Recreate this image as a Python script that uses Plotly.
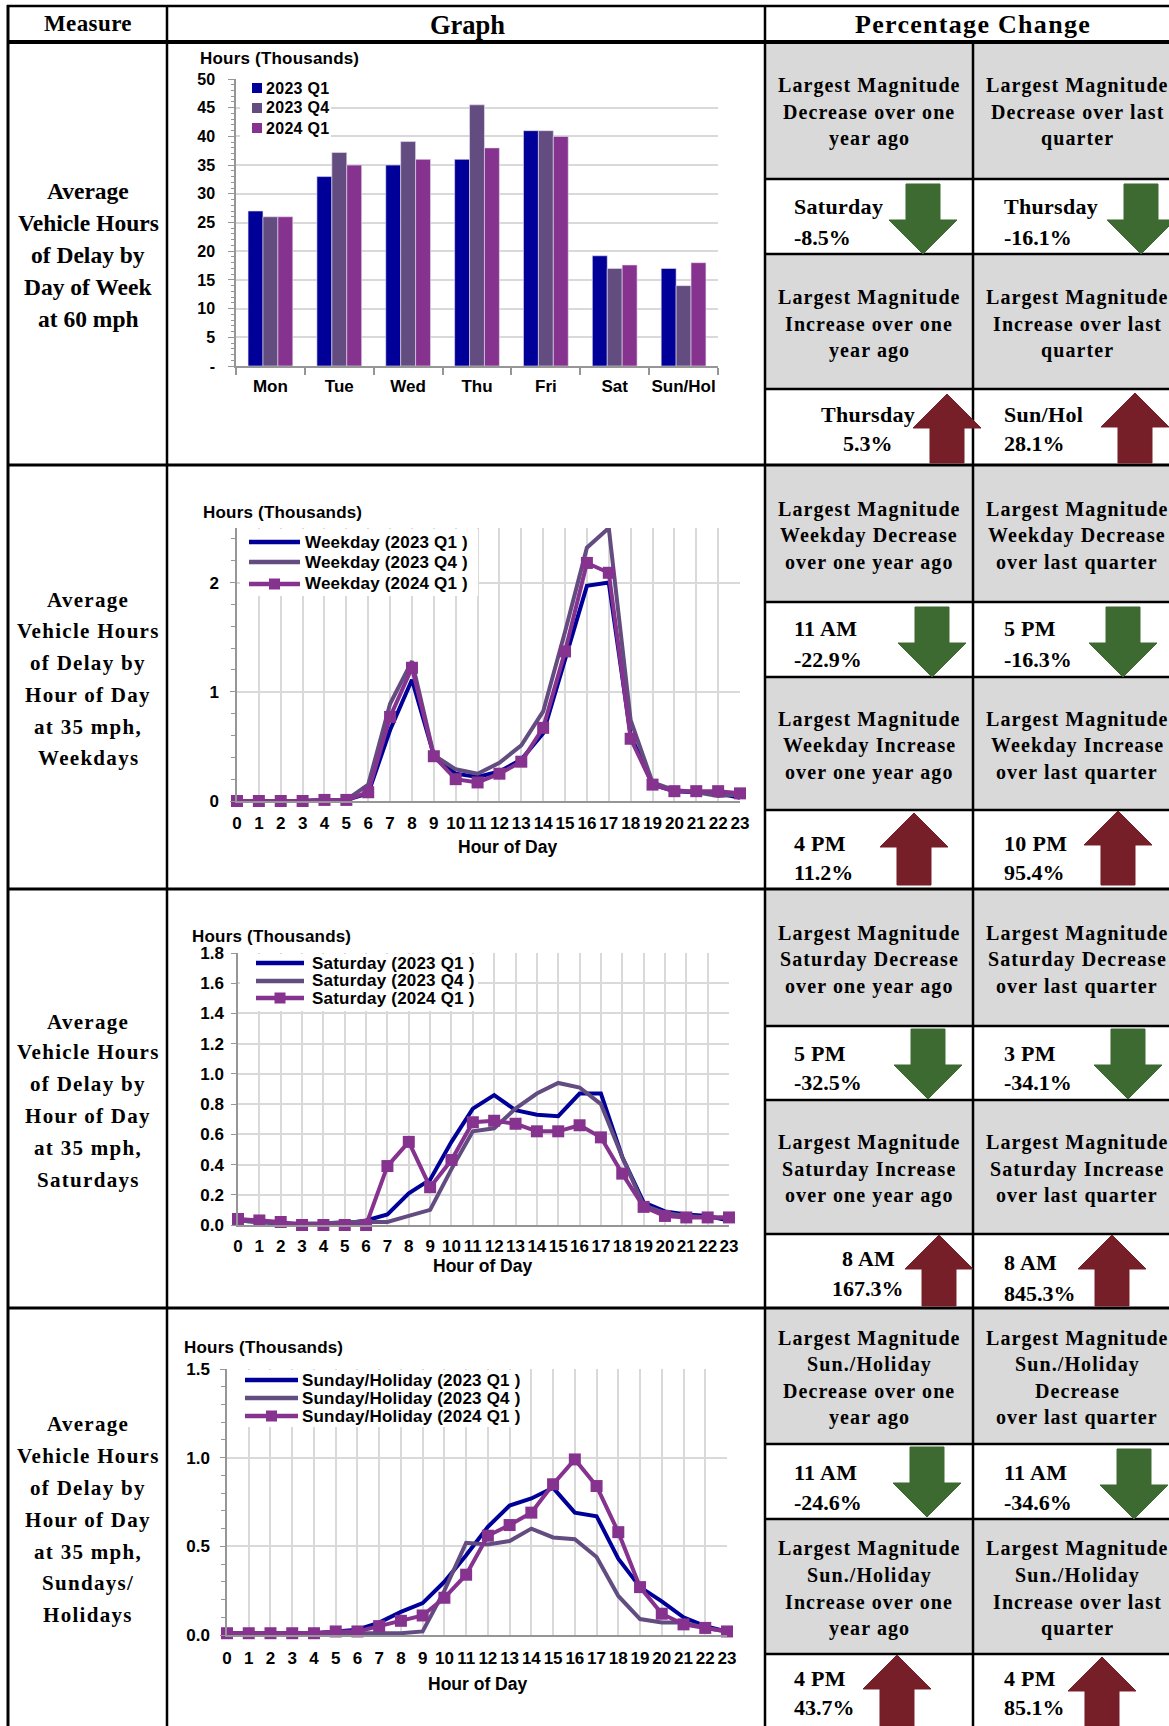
import plotly.graph_objects as go

W, H = 1169, 1726


def X(px):
    return px / W


def Y(px):
    return 1 - px / H


# ---------------- data ----------------
days = ["Mon", "Tue", "Wed", "Thu", "Fri", "Sat", "Sun/Hol"]
bar_2023q1 = [27.0, 33.0, 35.0, 36.0, 41.0, 19.2, 17.0]
bar_2023q4 = [26.0, 37.2, 39.1, 45.5, 41.0, 17.0, 14.0]
bar_2024q1 = [26.0, 35.0, 36.0, 38.0, 40.0, 17.6, 18.0]
bar_names = ["2023 Q1", "2023 Q4", "2024 Q1"]

hours = list(range(24))
wk_2023q1 = [0.0, 0.0, 0.0, 0.0, 0.01, 0.01, 0.07, 0.65, 1.11, 0.42, 0.25, 0.22,
             0.27, 0.38, 0.62, 1.29, 1.97, 2.00, 0.60, 0.15, 0.09, 0.08, 0.07, 0.03]
wk_2023q4 = [0.0, 0.0, 0.0, 0.0, 0.01, 0.01, 0.15, 0.89, 1.28, 0.42, 0.29, 0.25,
             0.35, 0.51, 0.82, 1.55, 2.32, 2.50, 0.74, 0.17, 0.10, 0.08, 0.045, 0.06]
wk_2024q1 = [0.0, 0.0, 0.0, 0.0, 0.01, 0.01, 0.08, 0.77, 1.22, 0.41, 0.20, 0.17,
             0.25, 0.36, 0.67, 1.37, 2.18, 2.09, 0.57, 0.15, 0.09, 0.09, 0.09, 0.07]

sat_2023q1 = [0.03, 0.02, 0.01, 0.0, 0.0, 0.01, 0.03, 0.07, 0.21, 0.30, 0.55, 0.77,
              0.86, 0.76, 0.73, 0.72, 0.87, 0.87, 0.45, 0.15, 0.09, 0.07, 0.06, 0.03]
sat_2023q4 = [0.03, 0.02, 0.01, 0.01, 0.01, 0.02, 0.02, 0.02, 0.06, 0.10, 0.37, 0.62,
              0.64, 0.77, 0.87, 0.94, 0.91, 0.80, 0.45, 0.13, 0.08, 0.06, 0.05, 0.05]
sat_2024q1 = [0.04, 0.03, 0.02, 0.0, 0.0, 0.0, 0.0, 0.39, 0.55, 0.25, 0.43, 0.68,
              0.69, 0.67, 0.62, 0.62, 0.66, 0.58, 0.34, 0.12, 0.06, 0.05, 0.05, 0.05]

sun_2023q1 = [0.01, 0.01, 0.01, 0.01, 0.01, 0.02, 0.03, 0.07, 0.13, 0.18, 0.30, 0.45,
              0.61, 0.73, 0.77, 0.83, 0.69, 0.67, 0.43, 0.27, 0.19, 0.10, 0.05, 0.02]
sun_2023q4 = [0.01, 0.01, 0.01, 0.01, 0.01, 0.01, 0.01, 0.01, 0.01, 0.02, 0.25, 0.52,
              0.51, 0.53, 0.60, 0.55, 0.54, 0.44, 0.22, 0.09, 0.07, 0.07, 0.04, 0.02]
sun_2024q1 = [0.01, 0.01, 0.01, 0.01, 0.01, 0.02, 0.02, 0.05, 0.08, 0.11, 0.21, 0.34,
              0.56, 0.62, 0.69, 0.85, 0.99, 0.84, 0.58, 0.27, 0.12, 0.06, 0.04, 0.02]

wk_names = ["Weekday (2023 Q1 )", "Weekday (2023 Q4 )", "Weekday (2024 Q1 )"]
sat_names = ["Saturday (2023 Q1 )", "Saturday (2023 Q4 )", "Saturday (2024 Q1 )"]
sun_names = ["Sunday/Holiday (2023 Q1 )", "Sunday/Holiday (2023 Q4 )", "Sunday/Holiday (2024 Q1 )"]

measure_texts = [
    ["Average", "Vehicle Hours", "of Delay by", "Day of Week", "at 60 mph"],
    ["Average", "Vehicle Hours", "of Delay by", "Hour of Day", "at 35 mph,", "Weekdays"],
    ["Average", "Vehicle Hours", "of Delay by", "Hour of Day", "at 35 mph,", "Saturdays"],
    ["Average", "Vehicle Hours", "of Delay by", "Hour of Day", "at 35 mph,", "Sundays/", "Holidays"],
]

# percentage-change header cells: per row -> [dec_year, dec_quarter, inc_year, inc_quarter]
pct_headers = [
    [["Largest Magnitude", "Decrease over one", "year ago"],
     ["Largest Magnitude", "Decrease over last", "quarter"],
     ["Largest Magnitude", "Increase over one", "year ago"],
     ["Largest Magnitude", "Increase over last", "quarter"]],
    [["Largest Magnitude", "Weekday Decrease", "over one year ago"],
     ["Largest Magnitude", "Weekday Decrease", "over last quarter"],
     ["Largest Magnitude", "Weekday Increase", "over one year ago"],
     ["Largest Magnitude", "Weekday Increase", "over last quarter"]],
    [["Largest Magnitude", "Saturday Decrease", "over one year ago"],
     ["Largest Magnitude", "Saturday Decrease", "over last quarter"],
     ["Largest Magnitude", "Saturday Increase", "over one year ago"],
     ["Largest Magnitude", "Saturday Increase", "over last quarter"]],
    [["Largest Magnitude", "Sun./Holiday", "Decrease over one", "year ago"],
     ["Largest Magnitude", "Sun./Holiday", "Decrease", "over last quarter"],
     ["Largest Magnitude", "Sun./Holiday", "Increase over one", "year ago"],
     ["Largest Magnitude", "Sun./Holiday", "Increase over last", "quarter"]],
]
pct_labels = [
    ["Saturday", "Thursday", "Thursday", "Sun/Hol"],
    ["11 AM", "5 PM", "4 PM", "10 PM"],
    ["5 PM", "3 PM", "8 AM", "8 AM"],
    ["11 AM", "11 AM", "4 PM", "4 PM"],
]
pct_values = [
    ["-8.5%", "-16.1%", "5.3%", "28.1%"],
    ["-22.9%", "-16.3%", "11.2%", "95.4%"],
    ["-32.5%", "-34.1%", "167.3%", "845.3%"],
    ["-24.6%", "-34.6%", "43.7%", "85.1%"],
]

# ---------------- styles / layout geometry (pixels) ----------------
NAVY = "#000099"
GREYP = "#634C80"
PURP = "#86328F"
GREEN = "#3D6A30"
RED = "#761F28"
GRID = "#D9D9D9"
CELLGREY = "#D9D9D9"
SANS = "Liberation Sans, Arial, sans-serif"
SERIF = "Liberation Serif, Times New Roman, serif"
CF = 17  # chart font size

row_edges = [42, 465, 889, 1308, 1726]
pct_rows = [
    [42, 179, 254, 389, 465],
    [465, 602, 677, 810, 889],
    [889, 1026, 1100, 1234, 1308],
    [1308, 1444, 1519, 1654, 1726],
]
measure_line_y = [
    [191, 223, 255, 287, 319],
    [600, 631, 663, 695, 727, 758],
    [1022, 1052, 1084, 1116, 1148, 1180],
    [1424, 1456, 1488, 1520, 1552, 1583, 1615],
]
measure_font = [(23.5, 0.0), (21, 1.3), (21, 1.3), (21, 1.3)]
X_L, X_M, X_G, X_P, X_R = 8, 167, 765, 973, 1169
COL_CX = [869, 1077]
VAL_LEFT = [792, 1002]
val_pos = [
    [("l", 207, 237), ("l", 207, 237), ("c", 415, 443), ("l", 415, 443)],
    [("l", 628, 659), ("l", 628, 659), ("l", 843, 873), ("l", 843, 873)],
    [("l", 1053, 1082), ("l", 1053, 1082), ("c", 1258, 1288), ("l", 1262, 1293)],
    [("l", 1472, 1502), ("l", 1472, 1502), ("l", 1678, 1707), ("l", 1678, 1707)],
]
arrows = [  # (cx, top, bottom, direction)
    [(923, 184, 254, "d"), (1141, 184, 254, "d"), (947, 394, 463, "u"), (1135, 393, 463, "u")],
    [(932, 607, 677, "d"), (1123, 607, 677, "d"), (914, 813, 885, "u"), (1118, 811, 885, "u")],
    [(928, 1029, 1099, "d"), (1128, 1029, 1099, "d"), (939, 1235, 1306, "u"), (1112, 1235, 1306, "u")],
    [(927, 1447, 1517, "d"), (1134, 1449, 1519, "d"), (897, 1655, 1726, "u"), (1102, 1657, 1726, "u")],
]

fig = go.Figure()

# ---------------- bar chart ----------------
for name, vals, col in zip(bar_names, [bar_2023q1, bar_2023q4, bar_2024q1], [NAVY, GREYP, PURP]):
    fig.add_trace(go.Bar(x=days, y=vals, name=name, marker=dict(color=col, line=dict(color="#E8E0EE", width=0.6)),
                         xaxis="x", yaxis="y", showlegend=False))

# ---------------- line charts ----------------
line_sets = [
    ("x2", "y2", wk_names, [wk_2023q1, wk_2023q4, wk_2024q1]),
    ("x3", "y3", sat_names, [sat_2023q1, sat_2023q4, sat_2024q1]),
    ("x4", "y4", sun_names, [sun_2023q1, sun_2023q4, sun_2024q1]),
]
for xa, ya, names, series in line_sets:
    for i, (name, vals, col) in enumerate(zip(names, series, [NAVY, GREYP, PURP])):
        fig.add_trace(go.Scatter(
            x=hours, y=vals, name=name, xaxis=xa, yaxis=ya, showlegend=False,
            mode="lines+markers" if i == 2 else "lines",
            line=dict(color=col, width=4),
            marker=dict(symbol="square", size=12, color=col),
            cliponaxis=False))

annotations = []
shapes = []


def txt(s, x, y, size, family, xanchor="center", ls=0.0, bold=True, color="black"):
    if ls:
        s = f'<span style="letter-spacing:{ls}px">{s}</span>'
    annotations.append(dict(text=s, x=X(x), y=Y(y), xref="paper", yref="paper",
                            xanchor=xanchor, yanchor="middle", showarrow=False,
                            font=dict(family=family, size=size, color=color,
                                      weight="bold" if bold else "normal")))


def hline(y, x0, x1, w=2, color="black"):
    shapes.append(dict(type="line", xref="paper", yref="paper", x0=X(x0), x1=X(x1), y0=Y(y), y1=Y(y),
                       line=dict(color=color, width=w), layer="above"))


def vline(x, y0, y1, w=2, color="black"):
    shapes.append(dict(type="line", xref="paper", yref="paper", x0=X(x), x1=X(x), y0=Y(y0), y1=Y(y1),
                       line=dict(color=color, width=w), layer="above"))


def rect(x0, y0, x1, y1, fill, layer="below"):
    shapes.append(dict(type="rect", xref="paper", yref="paper", x0=X(x0), x1=X(x1), y0=Y(y0), y1=Y(y1),
                       fillcolor=fill, line=dict(width=0), layer=layer))


# grey cells
for pr in pct_rows:
    rect(X_G, pr[0], X_R + 5, pr[1], CELLGREY)
    rect(X_G, pr[2], X_R + 5, pr[3], CELLGREY)

# table lines
hline(6, X_L - 1, X_R + 5, 2.5)
hline(42, X_L - 1, X_R + 5, 4)
for y in row_edges[1:-1]:
    hline(y, X_L - 1, X_R + 5, 3)
for pr in pct_rows:
    for y in pr[1:4]:
        hline(y, X_G, X_R + 5, 2.5)
vline(X_L, 5, H + 2, 3)
vline(X_M, 5, H + 2, 2.5)
vline(X_G, 5, H + 2, 2.5)
vline(X_P, 42, H + 2, 2.5)

# headers
txt("Measure", 88, 24, 23, SERIF, ls=0.4)
txt("Graph", 467, 25, 26.5, SERIF)
txt("Percentage Change", 973, 25, 26, SERIF, ls=1.3)

# measure column
for lines, ys, (fs, fls) in zip(measure_texts, measure_line_y, measure_font):
    for s, y in zip(lines, ys):
        txt(s, 88, y, fs, SERIF, ls=fls)

# pct cells
for r in range(4):
    pr = pct_rows[r]
    grey_centres = [(pr[0] + pr[1]) / 2 + 2, (pr[2] + pr[3]) / 2 + 2]
    for k in range(4):
        col = k % 2
        g = k // 2
        lines = pct_headers[r][k]
        n = len(lines)
        for j, s in enumerate(lines):
            y = grey_centres[g] + (j - (n - 1) / 2) * 26.5
            txt(s, COL_CX[col], y, 20, SERIF, ls=1.1)
        mode, y1, y2 = val_pos[r][k]
        if mode == "l":
            txt(pct_labels[r][k], VAL_LEFT[col], y1, 22, SERIF, xanchor="left", ls=0.3)
            txt(pct_values[r][k], VAL_LEFT[col], y2, 22, SERIF, xanchor="left")
        else:
            txt(pct_labels[r][k], 868, y1, 22, SERIF, ls=0.3)
            txt(pct_values[r][k], 868, y2, 22, SERIF)
        cx, yt, yb, d = arrows[r][k]
        sh, hh, hl = 17, 34, 34
        if d == "d":
            pts = [(cx - sh, yt), (cx + sh, yt), (cx + sh, yb - hl), (cx + hh, yb - hl), (cx, yb),
                   (cx - hh, yb - hl), (cx - sh, yb - hl)]
            colr = GREEN
        else:
            pts = [(cx, yt), (cx + hh, yt + hl), (cx + sh, yt + hl), (cx + sh, yb), (cx - sh, yb),
                   (cx - sh, yt + hl), (cx - hh, yt + hl)]
            colr = RED
        path = "M " + " L ".join(f"{X(px):.5f},{Y(py):.5f}" for px, py in pts) + " Z"
        shapes.append(dict(type="path", xref="paper", yref="paper", path=path, fillcolor=colr,
                           line=dict(color=colr, width=1), layer="above"))

# ---------------- chart titles / custom legends ----------------
txt("Hours (Thousands)", 198, 58, CF, SANS, xanchor="left", ls=0.2)
txt("Hours (Thousands)", 201, 512, CF, SANS, xanchor="left", ls=0.2)
txt("Hours (Thousands)", 190, 936, CF, SANS, xanchor="left", ls=0.2)
txt("Hours (Thousands)", 182, 1347, CF, SANS, xanchor="left", ls=0.2)
txt("Hour of Day", 507, 847, 17.5, SANS)
txt("Hour of Day", 482, 1266, 17.5, SANS)
txt("Hour of Day", 477, 1684, 17.5, SANS)

# legend masks
rect(240, 80, 331, 137, "white", layer="above")
rect(240, 529, 478, 596, "white", layer="above")
rect(240, 954, 478, 1011, "white", layer="above")
rect(229, 1370, 521, 1427, "white", layer="above")

for name, col, y in zip(bar_names, [NAVY, GREYP, PURP], [88, 108, 128]):
    rect(252, y - 5, 262, y + 5, col, layer="above")
    txt(name, 264, y, 16, SANS, xanchor="left", ls=0.3)

legend_geo = [
    (wk_names, 249, 300, 303, [542, 562, 584]),
    (sat_names, 256, 304, 310, [963, 981, 998]),
    (sun_names, 245, 298, 300, [1380, 1398, 1416]),
]
for names, lx0, lx1, tx, ys in legend_geo:
    for i, (name, col, y) in enumerate(zip(names, [NAVY, GREYP, PURP], ys)):
        shapes.append(dict(type="line", xref="paper", yref="paper", x0=X(lx0), x1=X(lx1), y0=Y(y), y1=Y(y),
                           line=dict(color=col, width=4.5), layer="above"))
        if i == 2:
            cxm = (lx0 + lx1) / 2
            rect(cxm - 5.5, y - 5.5, cxm + 5.5, y + 5.5, col, layer="above")
        txt(name, tx, y, CF, SANS, xanchor="left", ls=0.2)

# ---------------- axes ----------------
tickfont = dict(family=SANS, size=CF, color="black", weight="bold")
AXC = "#969696"


def dom_x(a, b):
    return [X(a), X(b)]


def dom_y(top, bottom):
    return [Y(bottom), Y(top)]


fig.update_layout(
    autosize=True, margin=dict(l=0, r=0, t=0, b=0, autoexpand=False),
    paper_bgcolor="white", plot_bgcolor="white",
    barmode="group", bargap=0.35, bargroupgap=0.0, showlegend=False,
    xaxis=dict(domain=dom_x(236, 718), anchor="y", type="category", showgrid=False, tickangle=0,
               showline=True, linecolor=AXC, linewidth=1.5, ticks="outside", tickson="boundaries",
               ticklen=7, tickcolor=AXC, tickwidth=1.5, tickfont=tickfont, ticklabelstandoff=4),
    yaxis=dict(domain=dom_y(79, 366), anchor="x", range=[0, 50],
               tickvals=list(range(0, 51, 5)),
               ticktext=["-"] + [str(v) for v in range(5, 51, 5)],
               showgrid=True, gridcolor=GRID, gridwidth=2, zeroline=False,
               showline=True, linecolor=AXC, linewidth=1.5, ticks="outside", ticklen=6,
               tickcolor=AXC, tickfont=dict(family=SANS, size=16, color="black", weight="bold"),
               ticklabelstandoff=10,
               minor=dict(dtick=1, ticks="outside", ticklen=3, tickcolor=AXC, showgrid=False)),
    xaxis2=dict(domain=dom_x(237, 740), anchor="y2", range=[0, 23], tickvals=hours, tickangle=0,
                showgrid=True, gridcolor=GRID, gridwidth=2, zeroline=False,
                showline=True, linecolor=AXC, linewidth=1.5, tickfont=tickfont, ticklabelstandoff=6),
    yaxis2=dict(domain=dom_y(528, 801), anchor="x2", range=[0, 2.5], tickvals=[0, 1, 2],
                showgrid=True, gridcolor=GRID, gridwidth=2, zeroline=False,
                showline=True, linecolor=AXC, linewidth=1.5, ticks="outside", ticklen=5, tickcolor=AXC,
                tickfont=tickfont, ticklabelstandoff=8,
                minor=dict(dtick=0.2, ticks="outside", ticklen=4, tickcolor=AXC, showgrid=False)),
    xaxis3=dict(domain=dom_x(238, 729), anchor="y3", range=[0, 23], tickvals=hours, tickangle=0,
                showgrid=True, gridcolor=GRID, gridwidth=2, zeroline=False,
                showline=True, linecolor=AXC, linewidth=1.5, tickfont=tickfont, ticklabelstandoff=5),
    yaxis3=dict(domain=dom_y(953, 1225), anchor="x3", range=[0, 1.8], dtick=0.2, tick0=0, tickformat=".1f",
                showgrid=True, gridcolor=GRID, gridwidth=2, zeroline=False,
                showline=True, linecolor=AXC, linewidth=1.5, ticks="outside", ticklen=5, tickcolor=AXC,
                tickfont=tickfont, ticklabelstandoff=4),
    xaxis4=dict(domain=dom_x(227, 727), anchor="y4", range=[0, 23], tickvals=hours, tickangle=0,
                showgrid=True, gridcolor=GRID, gridwidth=2, zeroline=False,
                showline=True, linecolor=AXC, linewidth=1.5, tickfont=tickfont, ticklabelstandoff=7),
    yaxis4=dict(domain=dom_y(1369, 1635), anchor="x4", range=[0, 1.5], dtick=0.5, tick0=0, tickformat=".1f",
                showgrid=True, gridcolor=GRID, gridwidth=2, zeroline=False,
                showline=True, linecolor=AXC, linewidth=1.5, ticks="outside", ticklen=5, tickcolor=AXC,
                tickfont=tickfont, ticklabelstandoff=7,
                minor=dict(dtick=0.1, ticks="outside", ticklen=4, tickcolor=AXC, showgrid=False)),
    annotations=annotations,
    shapes=shapes,
)

page_fix = ("document.documentElement.style.margin='0';document.documentElement.style.padding='0';"
            "document.documentElement.style.overflow='hidden';"
            "document.body.style.margin='0';document.body.style.padding='0';"
            "document.body.style.overflow='hidden';")

# the figure div is pinned to the page's top-left corner at exactly 1169 x 1726 px
fig.write_html("out.html",
               config={"responsive": False, "displayModeBar": False},
               default_width=f"{W}px; position:absolute; left:0px; top:0px; margin:0px",
               default_height=f"{H}px",
               post_script=page_fix)
